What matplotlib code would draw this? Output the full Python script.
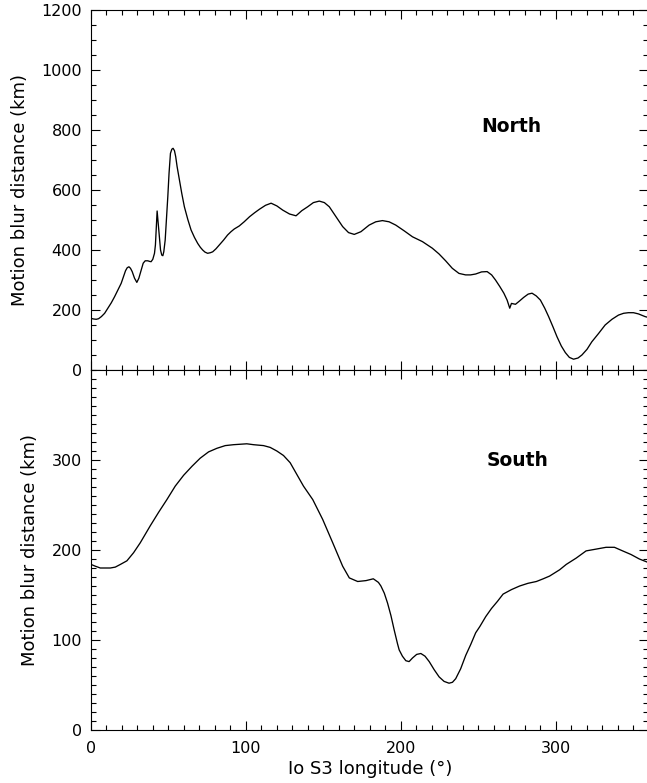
import numpy as np
import matplotlib
matplotlib.use("Agg")
import matplotlib.pyplot as plt
from matplotlib.ticker import MultipleLocator

# Io S3 longitude (deg) and motion blur distance (km)
north_lon = [0, 1.7, 3.4, 4.9, 6.7, 8.8, 10.9, 13.1, 15.2, 17.4, 19.5, 21.0,
             22.3, 23.4, 24.5, 25.5, 26.6, 28.1, 29.6, 30.9, 32.4, 33.7, 35.0,
             36.7, 37.8, 38.8, 39.9, 41.0, 41.6, 42.1, 42.7, 43.6, 44.9, 45.7,
             46.4, 47.0, 47.9, 48.7, 49.6, 50.4, 51.3, 52.2, 53.0, 53.9, 54.7,
             55.6, 57.1, 58.6, 60.3, 62.5, 64.6, 66.8, 68.9, 70.6, 72.1, 73.6,
             75.3, 77.1, 78.6, 80.7, 82.9, 85.6, 88.2, 90.4, 92.5, 95.7, 98.9,
             102.4, 105.6, 108.8, 112.7, 116.3, 120.0, 123.8, 128.2, 132.4,
             136.1, 139.9, 143.6, 147.4, 150.7, 153.9, 158.2, 162.5, 166.3,
             170.0, 174.3, 179.6, 183.9, 188.2, 192.5, 196.8, 202.2, 207.6,
             214.0, 220.4, 224.7, 229.0, 233.3, 237.6, 241.9, 245.1, 248.4,
             252.2, 255.8, 258.7, 261.2, 264.0, 266.6, 268.7, 270.4, 271.5,
             274.1, 276.7, 279.4, 282.3, 284.8, 287.5, 290.2, 293.0, 295.5,
             298.3, 300.9, 303.7, 306.3, 308.9, 311.6, 314.5, 317.0, 320.3,
             323.4, 327.8, 332.0, 336.4, 340.6, 343.9, 347.0, 350.3, 353.5,
             357.8, 360]
north_km = [172, 170, 169, 171, 178, 189, 206, 224, 244, 267, 289, 311,
            331, 341, 344, 339, 328, 306, 292, 306, 333, 356, 364,
            364, 362, 361, 369, 389, 417, 467, 530, 478, 400, 383,
            381, 394, 433, 500, 578, 656, 722, 736, 739, 731, 711,
            678, 633, 589, 544, 502, 467, 442, 422, 409, 400, 393,
            389, 391, 394, 404, 417, 433, 450, 461, 470, 480, 494,
            511, 524, 536, 549, 556, 547, 533, 520, 514,
            531, 544, 558, 563, 558, 544, 511, 478, 458,
            452, 461, 483, 494, 498, 494, 483, 464, 444,
            428, 406, 387, 364, 339, 322, 317, 317, 320,
            327, 328, 317, 300, 278, 256, 233, 206, 222,
            219, 230, 242, 253, 256, 247, 233, 206, 178,
            144, 111, 80, 58, 42, 36, 40, 50, 69,
            94, 122, 150, 169, 183, 189, 191, 191, 187,
            178, 175]

south_lon = [0, 2.8, 6, 12.5, 15.7, 19, 23.2, 27.5, 31.8, 38.3, 43.7, 49,
             54.4, 59.8, 65.2, 70.5, 75.9, 81.3, 86.7, 92, 100.6, 105, 111.4,
             115.7, 120, 124.3, 128.6, 132.9, 137.2, 140.0, 143.2, 149.6,
             156.1, 162.5, 166.8, 169.5, 172.2, 177.6, 182.3, 185.6, 187.2,
             189.4, 191.5, 193.7, 195.8, 197.9, 199.0, 201.1, 203.3, 205.4,
             207.6, 210.3, 213.0, 215.7, 218.4, 221.6, 224.8, 228.0, 231.2,
             233.4, 235.5, 238.7, 242.0, 245.2, 248.4, 251.1, 254.9, 258.6,
             262.5, 266.1, 271.5, 276.8, 282.2, 287.6, 292.0, 296.1, 302.6,
             306.9, 313.3, 319.7, 326.2, 332.6, 338.0, 343.3, 348.7, 354.1, 360]
south_km = [184, 182, 180, 180, 181, 184, 188, 197, 208, 227, 242, 256,
            271, 283, 293, 302, 309, 313, 316, 317, 318, 317, 316,
            314, 310, 305, 297, 284, 271, 264, 256, 234,
            208, 182, 169, 167, 165, 166, 168, 164, 160,
            152, 141, 127, 111, 96, 89, 82, 77, 76,
            80, 84, 85, 82, 76, 67, 59, 54, 52,
            53, 57, 68, 83, 95, 108, 115, 126, 135,
            143, 151, 156, 160, 163, 165, 168, 171, 178,
            184, 191, 199, 201, 203, 203, 199, 195, 190, 186]

plt.rcParams['font.family'] = ['DejaVu Sans']

fig = plt.figure(figsize=(6.47, 7.83), dpi=100)
W, H = 647.0, 783.0
ax1 = fig.add_axes([91 / W, (H - 370) / H, 557.5 / W, 360 / H])
ax2 = fig.add_axes([91 / W, (H - 730) / H, 557.5 / W, 360 / H])


def style(ax):
    ax.set_xlim(0, 360)
    ax.xaxis.set_major_locator(MultipleLocator(100))
    ax.xaxis.set_minor_locator(MultipleLocator(10))
    ax.tick_params(which='both', direction='in', top=True, right=True,
                   width=0.8, labelsize=11.5, pad=6.5)
    ax.tick_params(which='major', length=6.5)
    ax.tick_params(which='minor', length=3.6)
    for s in ax.spines.values():
        s.set_linewidth(0.8)


# top panel: North
ax1.plot(north_lon, north_km, color='black', lw=0.95, solid_joinstyle='round')
style(ax1)
ax1.set_ylim(0, 1200)
ax1.yaxis.set_major_locator(MultipleLocator(200))
ax1.yaxis.set_minor_locator(MultipleLocator(50))
ax1.tick_params(labelbottom=False)
ax1.set_ylabel('Motion blur distance (km)', fontsize=13, labelpad=9)
ax1.text(271.5, 810, 'North', ha='center', va='center',
         fontsize=13.5, fontweight='bold')

# bottom panel: South
ax2.plot(south_lon, south_km, color='black', lw=0.95, solid_joinstyle='round')
style(ax2)
ax2.set_ylim(0, 400)
ax2.set_yticks([0, 100, 200, 300])
ax2.yaxis.set_minor_locator(MultipleLocator(10))
ax2.tick_params(axis='x', pad=8)
ax2.set_ylabel('Motion blur distance (km)', fontsize=13, labelpad=9)
ax2.set_xlabel('Io S3 longitude (°)', fontsize=13, labelpad=3)
ax2.text(275.6, 299, 'South', ha='center', va='center',
         fontsize=13.5, fontweight='bold')

fig.savefig('out.png', dpi=100)
